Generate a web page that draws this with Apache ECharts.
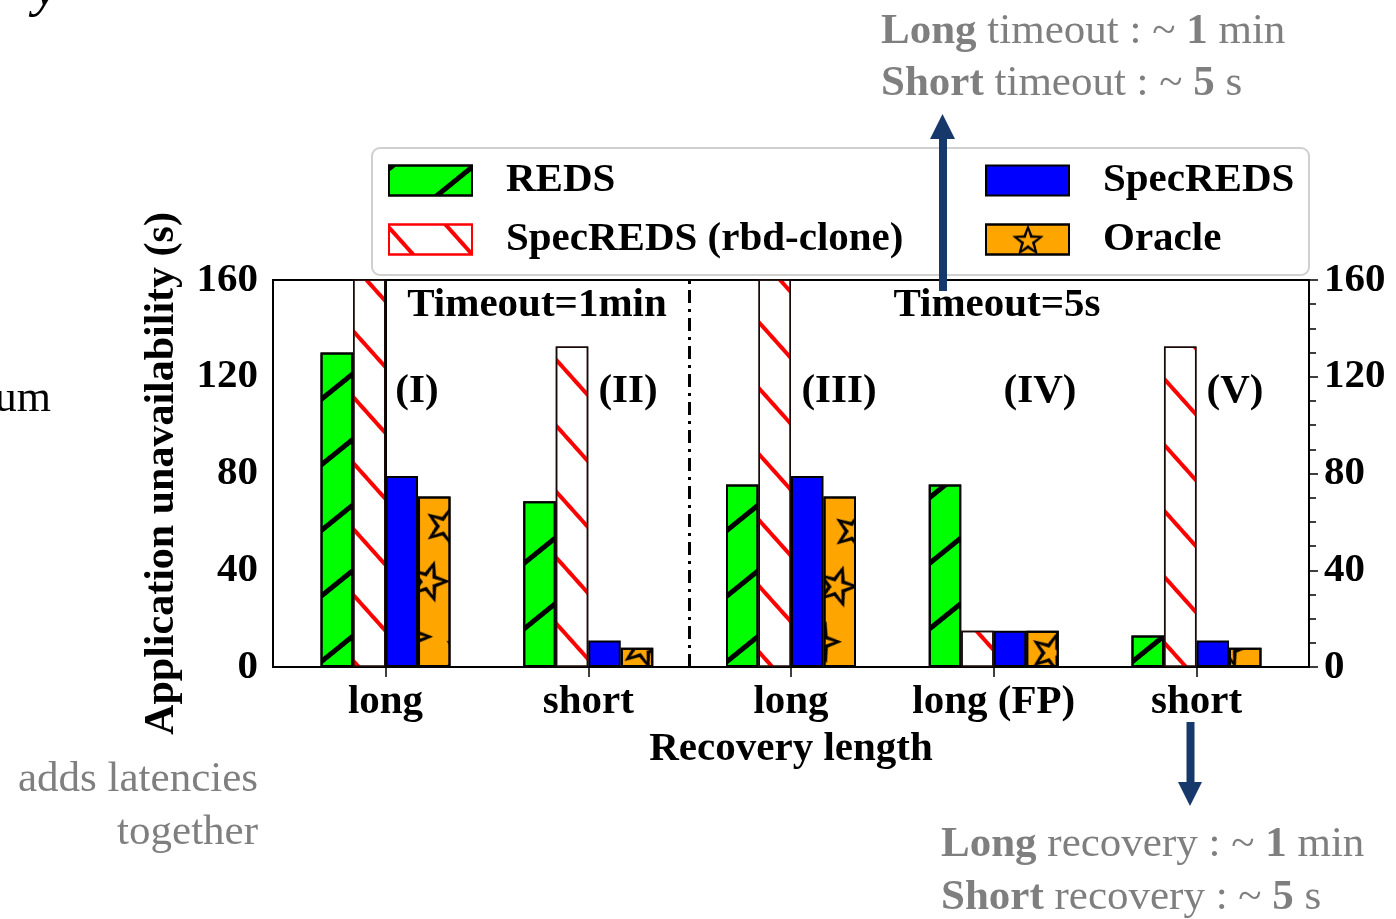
<!DOCTYPE html>
<html>
<head>
<meta charset="utf-8">
<script src="https://cdn.jsdelivr.net/npm/echarts@6/dist/echarts.min.js"></script>
<style>
  html, body { margin: 0; padding: 0; background: #fff; }
  #chart { width: 1396px; height: 919px; }
</style>
</head>
<body>
<div id="chart"></div>
<script>
// ---------- data ----------
const categories = ['long', 'short', 'long', 'long (FP)', 'short'];
const seriesNames = ['REDS', 'SpecREDS (rbd-clone)', 'SpecREDS', 'Oracle'];
const redsValues = [130, 68.5, 75.5, 75.5, 13];
const rbdCloneValues = [175, 132.5, 175, 15, 132.5];   // >160 values run off the top of the axis
const specRedsValues = [79, 11, 79, 15, 11];
const oracleValues = [70.5, 8, 70.5, 15, 8];
const yTicks = [0, 40, 80, 120, 160];
const separatorAt = [1.5];
const caseLabels = ['(I)', '(II)', '(III)', '(IV)', '(V)'];
const groupLabels = ['Timeout=1min', 'Timeout=5s'];

// ---------- helpers ----------
const FONT = '"Liberation Serif", "DejaVu Serif", serif';
const pairs = vals => vals.map((v, i) => [i, v]);

function starPts(cx, cy, R, r, reverse) {
  const pts = [];
  for (let k = 0; k < 10; k++) {
    const a = -Math.PI / 2 + k * Math.PI / 5;
    const rad = k % 2 === 0 ? R : r;
    pts.push([cx + rad * Math.cos(a), cy + rad * Math.sin(a)]);
  }
  if (reverse) pts.reverse();
  return 'M' + pts.map(p => p[0].toFixed(2) + ' ' + p[1].toFixed(2)).join(' L') + ' Z';
}
const starOutline = 'path://' + starPts(50, 52, 50, 22, false) + ' ' + starPts(50, 52, 33, 12, true);

const barBase = {
  type: 'bar',
  barWidth: 32.5,
  barGap: '0%',
  clip: true
};

const chart = echarts.init(document.getElementById('chart'), null, { renderer: 'canvas' });

const labelStyle = { fontFamily: FONT, fontWeight: 'bold', fontSize: 41, color: '#000' };
const gray = '#7f7f7f';
const GF = '43px ' + FONT;
const GFB = 'bold 43px ' + FONT;

const option = {
  backgroundColor: '#fff',
  animation: false,
  grid: { left: 273, right: 87, top: 280, bottom: 252, show: true, borderColor: '#000', borderWidth: 2, containLabel: false },
  xAxis: {
    type: 'value',
    min: -0.555,
    max: 4.555,
    splitLine: { show: false },
    axisLine: { show: true, lineStyle: { color: '#000', width: 2 } },
    axisTick: { show: true, customValues: categories.map((c, i) => i), length: 10, lineStyle: { color: '#000', width: 1.5 } },
    axisLabel: { customValues: categories.map((c, i) => i), formatter: v => categories[Math.round(v)], margin: 15, ...labelStyle },
    name: 'Recovery length',
    nameLocation: 'middle',
    nameGap: 62,
    nameTextStyle: labelStyle
  },
  yAxis: [0, 1].map(k => ({
    type: 'value',
    position: k === 0 ? 'left' : 'right',
    min: yTicks[0],
    max: yTicks[yTicks.length - 1],
    interval: yTicks[1] - yTicks[0],
    splitLine: { show: false },
    axisLine: { show: true, lineStyle: { color: '#000', width: 2 } },
    axisTick: { show: true, length: 9, lineStyle: { color: '#000', width: 1.5 } },
    minorTick: { show: true, splitNumber: 4, length: 7, lineStyle: { color: '#000', width: 1.5 } },
    axisLabel: { margin: 15, ...labelStyle },
    name: k === 0 ? 'Application unavailability (s)' : '',
    nameLocation: 'middle',
    nameRotate: 90,
    nameGap: 90,
    nameTextStyle: { ...labelStyle, fontSize: 42 }
  })),
  legend: [
    {
      data: [seriesNames[0], { name: seriesNames[1], itemStyle: { borderColor: '#ff0000', borderWidth: 2 } }],
      orient: 'vertical', left: 388, top: 160, padding: 0, itemGap: 18, icon: 'rect',
      itemWidth: 83, itemHeight: 30, z: 10,
      textStyle: { ...labelStyle, lineHeight: 41, padding: [0, 0, 0, 29] }
    },
    {
      data: [seriesNames[2], {
        name: seriesNames[3],
        itemStyle: { decal: { symbol: starOutline, symbolSize: 1, color: '#000', dashArrayX: [[0, 26, 32, 25]], dashArrayY: [30, 0], rotation: 0 } }
      }],
      orient: 'vertical', left: 985, top: 160, padding: 0, itemGap: 18, icon: 'rect',
      itemWidth: 83, itemHeight: 30, z: 10,
      textStyle: { ...labelStyle, lineHeight: 41, padding: [0, 0, 0, 29] }
    }
  ],
  series: [
    {
      ...barBase,
      name: seriesNames[0],
      data: pairs(redsValues),
      itemStyle: {
        color: '#00ff00', borderColor: '#000', borderWidth: 2,
        decal: { symbol: 'rect', symbolSize: 1, color: '#000', dashArrayX: [1, 0], dashArrayY: [4.5, 46], rotation: -0.68 }
      }
    },
    {
      ...barBase,
      name: seriesNames[1],
      data: pairs(rbdCloneValues),
      itemStyle: {
        color: '#ffffff', borderColor: '#1a0a0a', borderWidth: 1.5,
        decal: { symbol: 'rect', symbolSize: 1, color: '#ff0000', dashArrayX: [1, 0], dashArrayY: [3.5, 40], rotation: 0.84 }
      }
    },
    {
      ...barBase,
      name: seriesNames[2],
      data: pairs(specRedsValues),
      itemStyle: { color: '#0000ff', borderColor: '#000', borderWidth: 2 }
    },
    {
      ...barBase,
      name: seriesNames[3],
      data: pairs(oracleValues),
      itemStyle: {
        color: '#ffa500', borderColor: '#000', borderWidth: 2,
        decal: { symbol: starOutline, symbolSize: 1, color: '#000', dashArrayX: [42, 14], dashArrayY: [42, 16], rotation: 0.3 }
      }
    },
    {
      // separator between the two timeout groups
      type: 'line',
      name: 'separator',
      data: [],
      markLine: {
        silent: true, symbol: 'none',
        label: { show: false },
        lineStyle: { color: '#000', width: 3, type: [13, 6, 3, 6] },
        data: separatorAt.map(v => ({ xAxis: v }))
      }
    }
  ],
  graphic: [
    // legend frame
    { type: 'rect', z: 1, shape: { x: 372, y: 148, width: 937, height: 127, r: 8 },
      style: { fill: 'rgba(255,255,255,0.85)', stroke: '#d0d0d0', lineWidth: 2 } },
    // group labels
    { type: 'text', z: 5, style: { text: groupLabels[0], x: 537, y: 305, align: 'center', verticalAlign: 'middle', font: 'bold 41px ' + FONT, fill: '#000' } },
    { type: 'text', z: 5, style: { text: groupLabels[1], x: 997, y: 305, align: 'center', verticalAlign: 'middle', font: 'bold 41px ' + FONT, fill: '#000' } },
    // case labels
    ...caseLabels.map((t, i) => ({ type: 'text', z: 5, style: { text: t, x: [417, 628, 839, 1040, 1235][i], y: 391, align: 'center', verticalAlign: 'middle', font: 'bold 41px ' + FONT, fill: '#000' } })),
    // up arrow
    { type: 'rect', z: 20, shape: { x: 939, y: 136, width: 8, height: 155 }, style: { fill: '#17386b' } },
    { type: 'polygon', z: 20, shape: { points: [[930, 139], [955, 139], [942.5, 114]] }, style: { fill: '#17386b' } },
    // down arrow
    { type: 'rect', z: 20, shape: { x: 1186.5, y: 722, width: 8, height: 62 }, style: { fill: '#17386b' } },
    { type: 'polygon', z: 20, shape: { points: [[1178, 782], [1202, 782], [1190, 806]] }, style: { fill: '#17386b' } },
    // gray notes
    { type: 'text', z: 5, style: { text: '{b|Long} timeout : ~ {b|1} min', x: 881, y: 32, verticalAlign: 'middle', font: GF, fill: gray,
      rich: { b: { font: GFB, fill: gray } } } },
    { type: 'text', z: 5, style: { text: '{b|Short} timeout : ~ {b|5} s', x: 881, y: 84, verticalAlign: 'middle', font: GF, fill: gray,
      rich: { b: { font: GFB, fill: gray } } } },
    { type: 'text', z: 5, style: { text: '{b|Long} recovery : ~ {b|1} min', x: 941, y: 845, verticalAlign: 'middle', font: GF, fill: gray,
      rich: { b: { font: GFB, fill: gray } } } },
    { type: 'text', z: 5, style: { text: '{b|Short} recovery : ~ {b|5} s', x: 941, y: 898, verticalAlign: 'middle', font: GF, fill: gray,
      rich: { b: { font: GFB, fill: gray } } } },
    { type: 'text', z: 5, style: { text: 'adds latencies', x: 258, y: 780, align: 'right', verticalAlign: 'middle', font: GF, fill: gray } },
    { type: 'text', z: 5, style: { text: 'together', x: 258, y: 833, align: 'right', verticalAlign: 'middle', font: GF, fill: gray } },
    // clipped fragments of surrounding text
    { type: 'text', z: 5, style: { text: 'um', x: 51, y: 399, align: 'right', verticalAlign: 'middle', font: '44px ' + FONT, fill: '#000' } },
    { type: 'text', z: 5, style: { text: 'y', x: 46, y: -10, align: 'center', verticalAlign: 'middle', font: 'italic 56px ' + FONT, fill: '#000' } }
  ]
};

chart.setOption(option);
</script>
</body>
</html>
